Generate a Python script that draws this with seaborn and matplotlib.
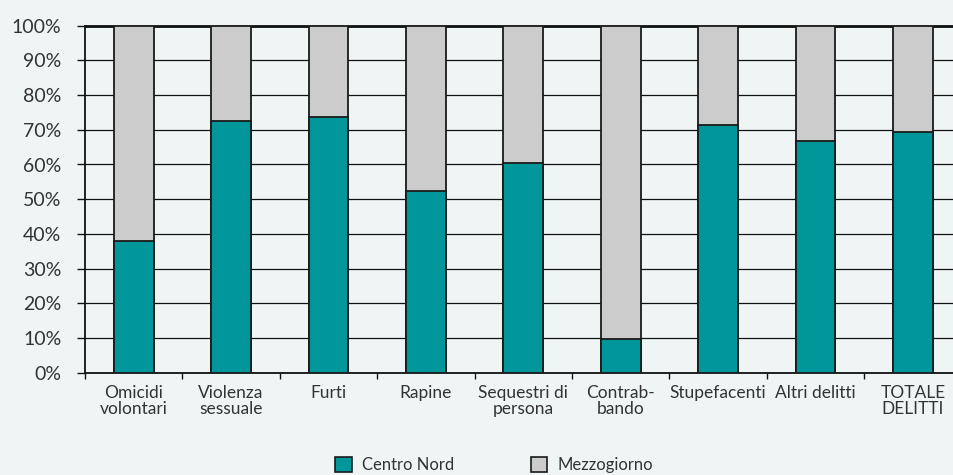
import matplotlib
matplotlib.use('Agg')
import matplotlib.pyplot as plt
import seaborn as sns
import pandas as pd
import numpy as np
from matplotlib.patches import Patch
from matplotlib.ticker import MultipleLocator, FixedLocator

# ── Data ──────────────────────────────────────────────────────────────────────
categories = ['Omicidi\nvolontari', 'Violenza\nsessuale', 'Furti', 'Rapine',
              'Sequestri di\npersona', 'Contrab-\nbando', 'Stupefacenti',
              'Altri delitti', 'TOTALE\nDELITTI']
centro_nord = [38.0, 72.4, 73.6, 52.3, 60.4, 9.7, 71.3, 66.7, 69.5]
mezzogiorno = [62.0, 27.6, 26.4, 47.7, 39.6, 90.3, 28.7, 33.3, 30.5]

teal = '#00969a'
grey = '#cccccc'
bg = '#eff5f5'
txt = '#333333'

df = pd.DataFrame({'cat': categories, 'cn': centro_nord, 'mz': mezzogiorno})
df['tot'] = df['cn'] + df['mz']

sns.set_theme(style='white')
plt.rcParams['font.family'] = ['Lato', 'DejaVu Sans']

fig = plt.figure(figsize=(9.54, 4.75), dpi=100, facecolor=bg)
W, H = 954, 475
unit = 97.4
ax = fig.add_axes([85 / W, (H - 372.7) / H, 9 * unit / W, 347 / H])
ax.set_facecolor(bg)

# grey layer = full stack, teal layer drawn on top
sns.barplot(data=df, x='cat', y='tot', color=grey, width=0.41, ax=ax,
            edgecolor='#1a1a1a', linewidth=1.3, saturation=1, zorder=3)
sns.barplot(data=df, x='cat', y='cn', color=teal, width=0.41, ax=ax,
            edgecolor='#1a1a1a', linewidth=1.3, saturation=1, zorder=4)

ax.set_xlim(-0.5, 8.5)
ax.set_ylim(0, 100)
ax.set_xlabel('')
ax.set_ylabel('')

ax.yaxis.set_major_locator(MultipleLocator(10))
ax.set_yticklabels([f'{int(v)}%' for v in ax.get_yticks()])
ax.grid(axis='y', color='#111111', linewidth=0.9)
ax.grid(axis='x', visible=False)
ax.set_axisbelow(True)

ax.xaxis.set_minor_locator(FixedLocator(np.arange(-0.5, 9, 1)))
ax.tick_params(axis='x', which='major', length=0, pad=9, labelsize=12.5,
               labelcolor=txt)
ax.tick_params(axis='x', which='minor', length=4, width=1, direction='out',
               color='#111111', bottom=True)
ax.tick_params(axis='y', which='major', length=6, width=1, direction='out',
               color='#111111', left=True, pad=11, labelsize=14,
               labelcolor=txt)
for lbl in ax.get_xticklabels():
    lbl.set_linespacing(0.95)

for side in ['left', 'bottom']:
    ax.spines[side].set_color('#111111')
    ax.spines[side].set_linewidth(1.3)
ax.spines['top'].set_color('#111111')
ax.spines['top'].set_linewidth(2)
ax.spines['right'].set_visible(False)

handles = [Patch(facecolor=teal, edgecolor='#1a1a1a', linewidth=1.2, label='Centro Nord'),
           Patch(facecolor=grey, edgecolor='#1a1a1a', linewidth=1.2, label='Mezzogiorno')]
fig.legend(handles=handles, loc='center', bbox_to_anchor=(494 / W, 10 / H),
           ncol=2, frameon=False, fontsize=12, handlelength=1.0,
           handleheight=1.0, handletextpad=0.6, columnspacing=4.6,
           labelcolor=txt)

plt.savefig('out.png', dpi=100, facecolor=bg)
plt.close()
